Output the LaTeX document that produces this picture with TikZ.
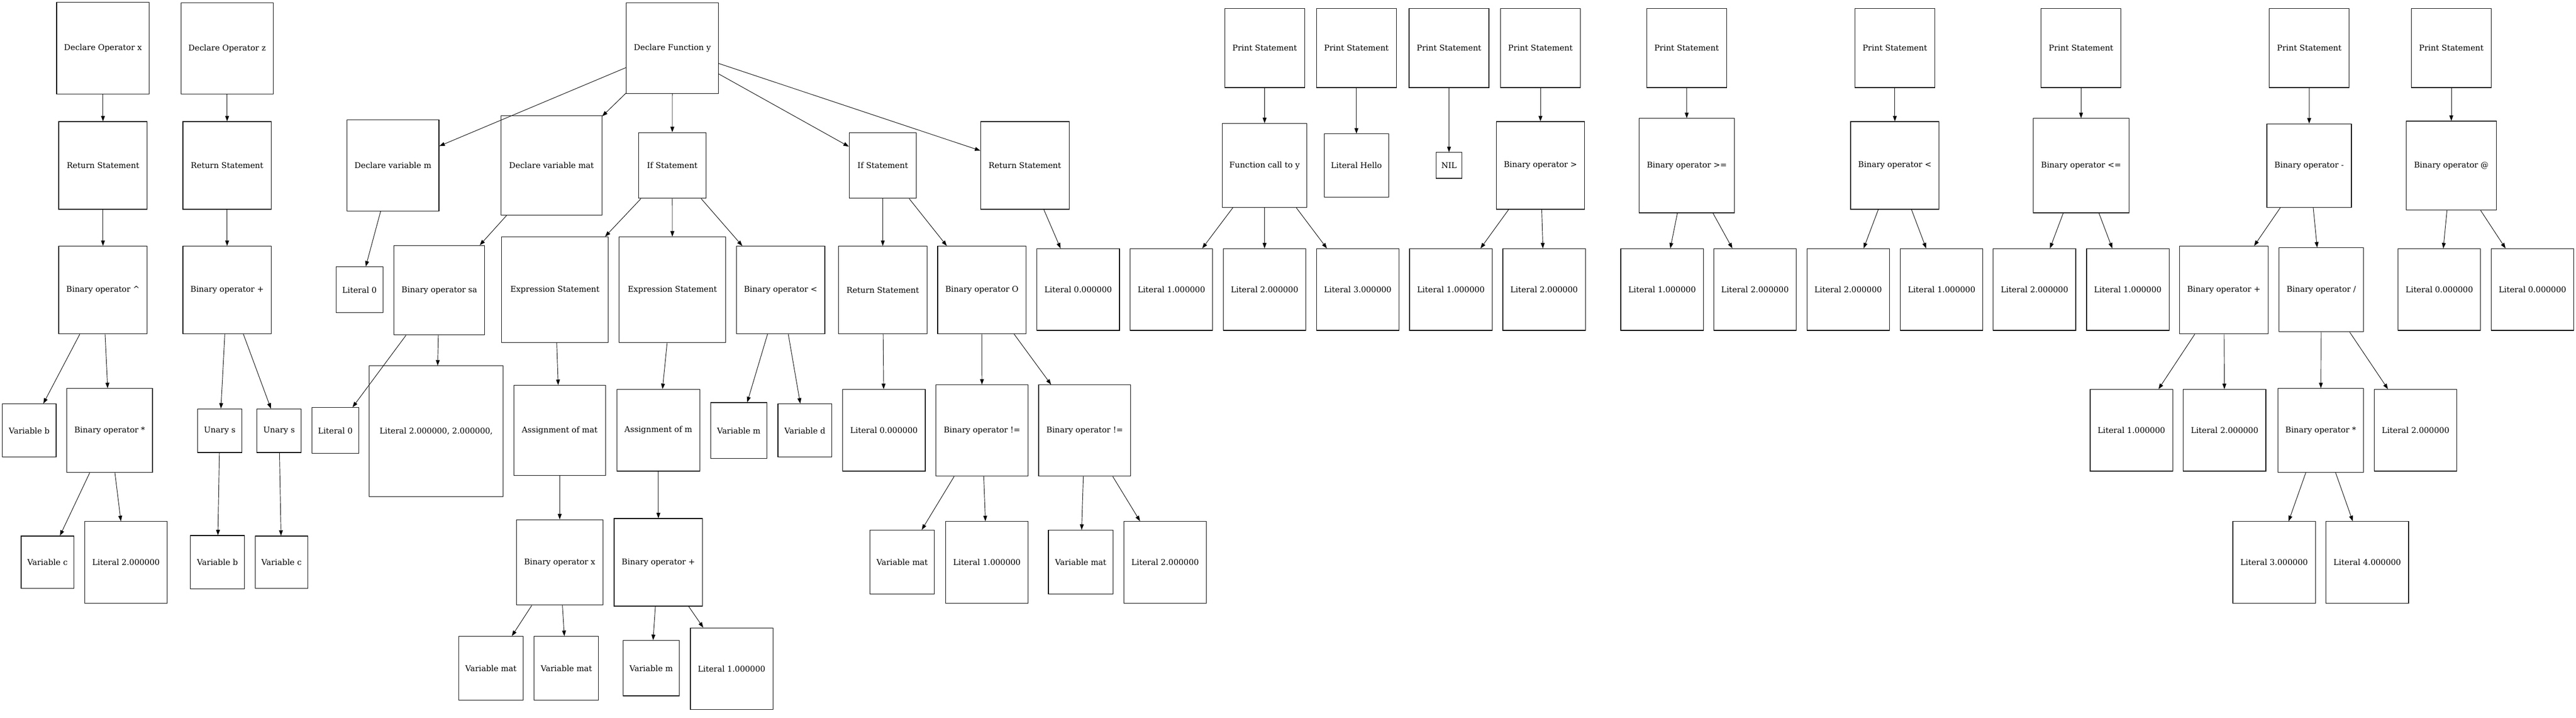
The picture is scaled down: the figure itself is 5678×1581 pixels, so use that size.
\documentclass[tikz,border=0pt]{standalone}
\usepackage{fontspec}
\setmainfont{DejaVu Serif}
\usetikzlibrary{arrows.meta}

\begin{document}
\begin{tikzpicture}[x=0.02cm,y=-0.02cm,
	ast/.style={draw,line width=0.8pt,inner sep=0pt,font=\fontsize{10}{12}\selectfont},
	wh/.style 2 args={minimum width=#1*0.02cm,minimum height=#2*0.02cm},
	lit/.style={ast,wh={182}{180}},
	prn/.style={ast,wh={176}{174}},
	bin/.style={ast,wh={195}{193}},
	link/.style={line width=0.6pt,-{Triangle[length=0.24cm,width=0.17cm]}}]

			\useasboundingbox (0,0) rectangle (5678,1581);

			% Operator x
			\node[ast,wh={204}{202}] (dox) at (227,106) {Declare Operator x};
			\node[bin] (retx) at (227,364.5) {Return Statement};
			\node[bin] (powx) at (227,639) {Binary operator \textasciicircum};
			\node[ast,wh={119}{117}] (varbx) at (64.4,948.5) {Variable b};
			\node[ast,wh={189}{185}] (mulx) at (241.7,948.5) {Binary operator *};
			\node[ast,wh={116}{115}] (varcx) at (104.6,1238.5) {Variable c};
			\node[lit] (lit2x) at (277.7,1239) {Literal 2.000000};

			% Operator z
			\node[ast,wh={203}{201}] (doz) at (500.6,106.5) {Declare Operator z};
			\node[bin] (retz) at (500.6,364.5) {Return Statement};
			\node[bin] (plusz) at (500.6,639) {Binary operator +};
			\node[ast,wh={98}{96}] (unz1) at (484.4,949) {Unary s};
			\node[ast,wh={98}{96}] (unz2) at (615.1,949) {Unary s};
			\node[ast,wh={119}{117}] (varbz) at (479.3,1238.5) {Variable b};
			\node[ast,wh={116}{115}] (varcz) at (620.5,1238.5) {Variable c};

			% Function y
			\node[ast,wh={203}{200}] (decfy) at (1482.1,106) {Declare Function y};
			\node[ast,wh={203}{201}] (decm) at (866.1,364.5) {Declare variable m};
			\node[ast,wh={103}{101}] (lit0m) at (792.4,638.5) {Literal 0};
			\node[ast,wh={222}{219}] (decmat) at (1215.6,364.5) {Declare variable mat};
			\node[ast,wh={200}{197}] (binsa) at (968.4,639.5) {Binary operator sa};
			\node[ast,wh={103}{101}] (lit0sa) at (739.2,948.5) {Literal 0};
			\node[ast,wh={295}{288}] (litvec) at (961.5,950) {Literal 2.000000, 2.000000,};

			% First if
			\node[ast,wh={149}{145}] (if1) at (1481.8,364.5) {If Statement};
			\node[ast,wh={235}{233}] (expr1) at (1223.2,638.5) {Expression Statement};
			\node[ast,wh={235}{233}] (expr2) at (1482.1,638.5) {Expression Statement};
			\node[bin] (lt1) at (1720.7,639) {Binary operator <};
			\node[ast,wh={202}{199}] (asmat) at (1233.7,948.5) {Assignment of mat};
			\node[ast,wh={183}{180}] (asm) at (1451.2,948) {Assignment of m};
			\node[ast,wh={124}{123}] (varm1) at (1628.5,948.5) {Variable m};
			\node[ast,wh={119}{117}] (vard) at (1774.2,948.5) {Variable d};
			\node[ast,wh={191}{188}] (binx) at (1233.7,1239) {Binary operator x};
			\node[bin] (plusm) at (1451.2,1239) {Binary operator +};
			\node[ast,wh={142}{141}] (varmat1) at (1082,1472.5) {Variable mat};
			\node[ast,wh={142}{141}] (varmat2) at (1248.4,1472.5) {Variable mat};
			\node[ast,wh={124}{122}] (varm2) at (1435.3,1472) {Variable m};
			\node[lit] (lit1m) at (1612.6,1473.5) {Literal 1.000000};

			% Second if
			\node[ast,wh={148}{145}] (if2) at (1945.8,364.5) {If Statement};
			\node[bin] (retif) at (1945.8,639) {Return Statement};
			\node[lit] (lit0r) at (1948.4,948) {Literal 0.000000};
			\node[bin] (binO) at (2164.2,639) {Binary operator O};
			\node[ast,wh={203}{201}] (ne1) at (2164.5,948.5) {Binary operator !=};
			\node[ast,wh={203}{201}] (ne2) at (2390.9,948.5) {Binary operator !=};
			\node[ast,wh={142}{141}] (varmat3) at (1988.5,1238.5) {Variable mat};
			\node[lit] (lit1ne) at (2175.4,1239) {Literal 1.000000};
			\node[ast,wh={142}{141}] (varmat4) at (2382,1238.5) {Variable mat};
			\node[lit] (lit2ne) at (2568.2,1239) {Literal 2.000000};

			% Return of y
			\node[bin] (ret2) at (2259,364.5) {Return Statement};
			\node[lit] (lit0y) at (2376.6,638) {Literal 0.000000};

			% Print 1 and 2
			\node[prn] (pr1) at (2787.6,106) {Print Statement};
			\node[ast,wh={187}{185}] (call) at (2787.3,364.5) {Function call to y};
			\node[lit] (lit1c) at (2582,638) {Literal 1.000000};
			\node[lit] (lit2c) at (2787.3,638) {Literal 2.000000};
			\node[lit] (lit3c) at (2992.7,638) {Literal 3.000000};
			\node[prn] (pr2) at (2989.8,106) {Print Statement};
			\node[ast,wh={142}{139}] (hello) at (2989.8,364.5) {Literal Hello};

			% Print 3 and 4
			\node[prn] (pr3) at (3193.9,106) {Print Statement};
			\node[ast,wh={57}{57}] (nil) at (3193.9,364.5) {NIL};
			\node[prn] (pr4) at (3395.4,106) {Print Statement};
			\node[bin] (gt) at (3395.4,364.5) {Binary operator >};
			\node[lit] (lit1g) at (3198,638) {Literal 1.000000};
			\node[lit] (lit2g) at (3403.4,638) {Literal 2.000000};

			% Print 5
			\node[prn] (pr5) at (3717.5,106) {Print Statement};
			\node[ast,wh={210}{208}] (ge) at (3718.1,365) {Binary operator >=};
			\node[lit] (lit1ge) at (3663.6,638) {Literal 1.000000};
			\node[lit] (lit2ge) at (3868.3,638) {Literal 2.000000};

			% Print 6
			\node[prn] (pr6) at (4176.6,106) {Print Statement};
			\node[bin] (lt2) at (4176.6,364.5) {Binary operator <};
			\node[lit] (lit2l) at (4073.7,638) {Literal 2.000000};
			\node[lit] (lit1l) at (4279.7,638) {Literal 1.000000};

			% Print 7
			\node[prn] (pr7) at (4587,106) {Print Statement};
			\node[ast,wh={211}{208}] (le) at (4587,365) {Binary operator <=};
			\node[lit] (lit2le) at (4484.4,638) {Literal 2.000000};
			\node[lit] (lit1le) at (4690,638) {Literal 1.000000};

			% Print 8
			\node[prn] (pr8) at (5090,106) {Print Statement};
			\node[ast,wh={186}{184}] (minus) at (5089.7,365) {Binary operator -};
			\node[bin] (plus2) at (4901.8,639) {Binary operator +};
			\node[lit] (lit1p) at (4698,948) {Literal 1.000000};
			\node[lit] (lit2p) at (4903.4,948) {Literal 2.000000};
			\node[ast,wh={186}{185}] (div) at (5116.5,638.5) {Binary operator /};
			\node[ast,wh={188}{185}] (mul2) at (5115.2,948.5) {Binary operator *};
			\node[lit] (lit2d) at (5324.4,948) {Literal 2.000000};
			\node[lit] (lit3) at (5012.5,1239) {Literal 3.000000};
			\node[lit] (lit4) at (5217.9,1239) {Literal 4.000000};

			% Print 9
			\node[prn] (pr9) at (5403.1,106) {Print Statement};
			\node[ast,wh={199}{196}] (matmul) at (5403.1,365) {Binary operator @};
			\node[lit] (lit0a) at (5376.7,638) {Literal 0.000000};
			\node[lit] (lit0b) at (5582,638) {Literal 0.000000};

			% Edges of x and z
			\draw[link] (dox) -- (retx);
			\draw[link] (retx) -- (powx);
			\draw[link] (powx) -- (varbx);
			\draw[link] (powx) -- (mulx);
			\draw[link] (mulx) -- (varcx);
			\draw[link] (mulx) -- (lit2x);
			\draw[link] (doz) -- (retz);
			\draw[link] (retz) -- (plusz);
			\draw[link] (plusz) -- (unz1);
			\draw[link] (plusz) -- (unz2);
			\draw[link] (unz1) -- (varbz);
			\draw[link] (unz2) -- (varcz);

			% Edges of y
			\draw[link] (decfy) -- (decm);
			\draw[link] (decfy) -- (decmat);
			\draw[link] (decfy) -- (if1);
			\draw[link] (decfy) -- (if2);
			\draw[link] (decfy) -- (ret2);
			\draw[link] (decm) -- (lit0m);
			\draw[link] (decmat) -- (binsa);
			\draw[link] (binsa) -- (lit0sa);
			\draw[link] (binsa) -- (litvec);
			\draw[link] (if1) -- (expr1);
			\draw[link] (if1) -- (expr2);
			\draw[link] (if1) -- (lt1);
			\draw[link] (expr1) -- (asmat);
			\draw[link] (asmat) -- (binx);
			\draw[link] (binx) -- (varmat1);
			\draw[link] (binx) -- (varmat2);
			\draw[link] (expr2) -- (asm);
			\draw[link] (asm) -- (plusm);
			\draw[link] (plusm) -- (varm2);
			\draw[link] (plusm) -- (lit1m);
			\draw[link] (lt1) -- (varm1);
			\draw[link] (lt1) -- (vard);
			\draw[link] (if2) -- (retif);
			\draw[link] (if2) -- (binO);
			\draw[link] (retif) -- (lit0r);
			\draw[link] (binO) -- (ne1);
			\draw[link] (binO) -- (ne2);
			\draw[link] (ne1) -- (varmat3);
			\draw[link] (ne1) -- (lit1ne);
			\draw[link] (ne2) -- (varmat4);
			\draw[link] (ne2) -- (lit2ne);
			\draw[link] (ret2) -- (lit0y);

			% Edges of prints
			\draw[link] (pr1) -- (call);
			\draw[link] (call) -- (lit1c);
			\draw[link] (call) -- (lit2c);
			\draw[link] (call) -- (lit3c);
			\draw[link] (pr2) -- (hello);
			\draw[link] (pr3) -- (nil);
			\draw[link] (pr4) -- (gt);
			\draw[link] (gt) -- (lit1g);
			\draw[link] (gt) -- (lit2g);
			\draw[link] (pr5) -- (ge);
			\draw[link] (ge) -- (lit1ge);
			\draw[link] (ge) -- (lit2ge);
			\draw[link] (pr6) -- (lt2);
			\draw[link] (lt2) -- (lit2l);
			\draw[link] (lt2) -- (lit1l);
			\draw[link] (pr7) -- (le);
			\draw[link] (le) -- (lit2le);
			\draw[link] (le) -- (lit1le);
			\draw[link] (pr8) -- (minus);
			\draw[link] (minus) -- (plus2);
			\draw[link] (minus) -- (div);
			\draw[link] (plus2) -- (lit1p);
			\draw[link] (plus2) -- (lit2p);
			\draw[link] (div) -- (mul2);
			\draw[link] (div) -- (lit2d);
			\draw[link] (mul2) -- (lit3);
			\draw[link] (mul2) -- (lit4);
			\draw[link] (pr9) -- (matmul);
			\draw[link] (matmul) -- (lit0a);
			\draw[link] (matmul) -- (lit0b);
		\end{tikzpicture}
\end{document}
